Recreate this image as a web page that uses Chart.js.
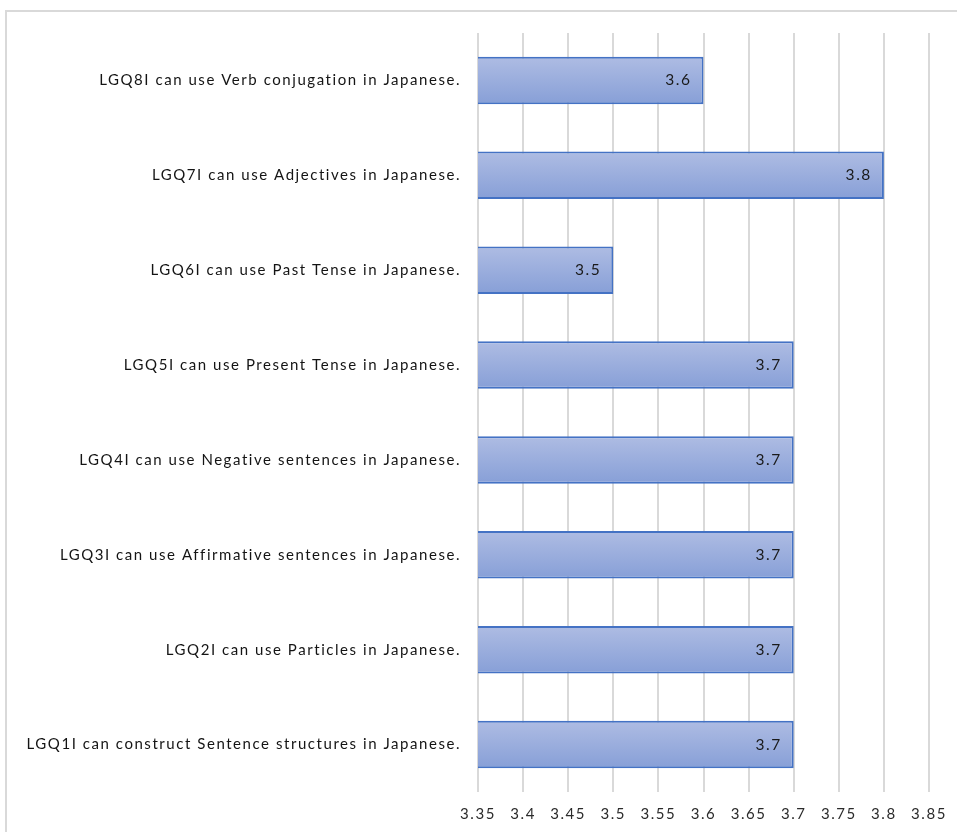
<!DOCTYPE html>
<html><head><meta charset="utf-8">
<script src="https://cdn.jsdelivr.net/npm/chart.js@4"></script>
<style>
html,body{margin:0;padding:0;background:#fff;}
#wrap{position:relative;width:957px;height:832px;overflow:hidden;}
#frame{position:absolute;left:5px;top:10px;width:1000px;height:900px;border-left:2px solid #d9d9d9;border-top:2px solid #d9d9d9;box-sizing:border-box;}
canvas{position:absolute;left:0;top:0;}
</style></head>
<body><div id="wrap"><div id="frame"></div><canvas id="c" width="957" height="832"></canvas></div>
<script>
const categories = [
  "LGQ8I can use Verb conjugation in Japanese.",
  "LGQ7I can use Adjectives in Japanese.",
  "LGQ6I can use Past Tense in Japanese.",
  "LGQ5I can use Present Tense in Japanese.",
  "LGQ4I can use Negative sentences in Japanese.",
  "LGQ3I can use Affirmative sentences in Japanese.",
  "LGQ2I can use Particles in Japanese.",
  "LGQ1I can construct Sentence structures in Japanese."
];
const values = [3.6, 3.8, 3.5, 3.7, 3.7, 3.7, 3.7, 3.7];
const xTickLabels = ["3.35","3.4","3.45","3.5","3.55","3.6","3.65","3.7","3.75","3.8","3.85"];

const FONT = "Lato, 'Open Sans', sans-serif";
const SPACING = '1.55px';

function barGradient(ctx){
  const chart = ctx.chart;
  const ys = chart.scales && chart.scales.y;
  if (!ys || ctx.dataIndex === undefined) return '#9aaedc';
  const cy = ys.getPixelForValue(ctx.dataIndex);
  const h = (ys.bottom - ys.top) / categories.length * 0.5;
  if (!isFinite(cy) || !isFinite(h) || h <= 0) return '#9aaedc';
  const g = chart.ctx.createLinearGradient(0, cy - h/2, 0, cy + h/2);
  g.addColorStop(0, '#aebce3');
  g.addColorStop(1, '#879fd7');
  return g;
}

const spacingPlugin = {
  id: 'spacing',
  beforeLayout(chart){ chart.ctx.letterSpacing = SPACING; },
  beforeDraw(chart){ chart.ctx.letterSpacing = SPACING; }
};

const valueLabels = {
  id: 'valueLabels',
  afterDatasetsDraw(chart){
    const c = chart.ctx;
    const meta = chart.getDatasetMeta(0);
    c.save();
    c.letterSpacing = SPACING;
    c.font = "15.5px " + FONT;
    c.fillStyle = '#1a1a1a';
    c.textAlign = 'right';
    c.textBaseline = 'middle';
    meta.data.forEach((bar, i) => {
      c.fillText(String(values[i]), bar.x - 12, bar.y);
    });
    c.restore();
  }
};

const chart = new Chart(document.getElementById('c'), {
  type: 'bar',
  data: {
    labels: categories,
    datasets: [{
      data: values,
      backgroundColor: barGradient,
      borderColor: '#4472c4',
      borderWidth: 2,
      borderSkipped: 'start',
      categoryPercentage: 1,
      barPercentage: 0.5
    }]
  },
  options: {
    indexAxis: 'y',
    responsive: false,
    animation: false,
    devicePixelRatio: 1,
    layout: { padding: { top: 33, right: 28, bottom: 0, left: 0 } },
    plugins: { legend: { display: false }, tooltip: { enabled: false } },
    scales: {
      x: {
        min: 3.35, max: 3.85,
        border: { display: false },
        grid: { color: '#d9d9d9', lineWidth: 2, drawTicks: false },
        ticks: {
          stepSize: 0.05,
          padding: 13,
          color: '#2b2b2b',
          font: { family: FONT, size: 15 },
          callback: (v, i) => xTickLabels[i]
        },
        afterFit(s){ s.height = 40; s.paddingLeft = 0; s.paddingRight = 0; }
      },
      y: {
        border: { display: false },
        grid: { display: false, drawTicks: false },
        ticks: {
          padding: 17,
          color: '#141414',
          font: { family: FONT, size: 15 }
        },
        afterFit(s){ s.width = 478; s.paddingTop = 0; s.paddingBottom = 0; }
      }
    }
  },
  plugins: [spacingPlugin, valueLabels]
});
chart.update();
</script></body></html>
